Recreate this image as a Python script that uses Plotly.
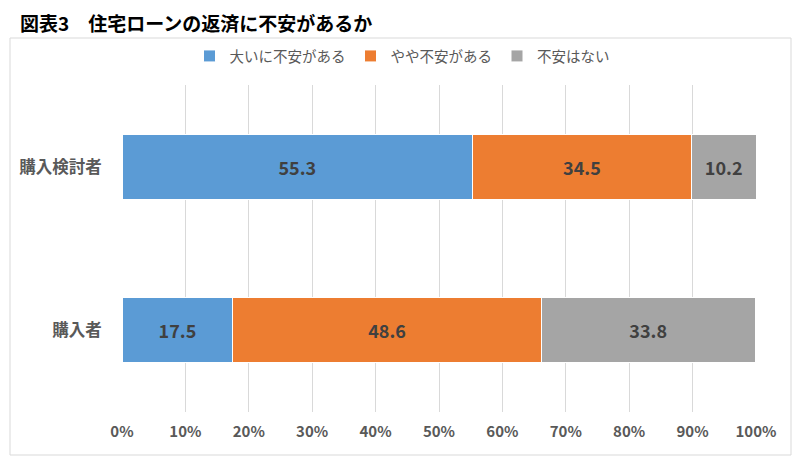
import plotly.graph_objects as go

categories = ["購入者", "購入検討者"]
series_names = ["大いに不安がある", "やや不安がある", "不安はない"]
very_anxious = [17.5, 55.3]
somewhat_anxious = [48.6, 34.5]
not_anxious = [33.8, 10.2]
colors = ["#5B9BD5", "#ED7D31", "#A5A5A5"]
tick_vals = [0, 10, 20, 30, 40, 50, 60, 70, 80, 90, 100]
tick_text = [f"{v}%" for v in tick_vals]

FONT = "Noto Sans CJK JP"
OFF = 8  # page body margin
fig = go.Figure()
for name, vals, col in zip(series_names, [very_anxious, somewhat_anxious, not_anxious], colors):
    fig.add_trace(go.Bar(
        y=categories, x=vals, name=name, orientation="h",
        marker=dict(color=col, line=dict(color="white", width=1)),
        text=[f"{v:.1f}" for v in vals], textposition="inside",
        insidetextanchor="middle", textangle=0, constraintext="none",
        textfont=dict(family=FONT, size=18, color="#404040", weight="bold"),
        width=0.4,
    ))

W, H = 800 - OFF, 463 - OFF
L, T = 122 - OFF, 85 - OFF
pw, ph = 634, 327
R, B = W - L - pw, H - T - ph

def px_x(p):
    return (p - OFF - L) / pw

def px_y(p):
    return (H - B - (p - OFF)) / ph

fig.add_shape(type="rect", xref="paper", yref="paper",
              x0=px_x(10), x1=px_x(791), y0=px_y(455), y1=px_y(38),
              line=dict(color="#D9D9D9", width=1), layer="below")

fig.update_layout(
    width=W, height=H, barmode="stack",
    margin=dict(l=L, r=R, t=T, b=B, autoexpand=False),
    paper_bgcolor="white", plot_bgcolor="white",
    font=dict(family=FONT, color="#595959"),
    title=dict(text="図表3　住宅ローンの返済に不安があるか", x=(20 - OFF)/W, xanchor="left",
               y=1 - (24 - OFF)/H, yanchor="middle", xref="container", yref="container",
               font=dict(family=FONT, size=19, color="#000000", weight="bold"),
               automargin=False),
    legend=dict(orientation="h", xref="container", yref="container",
                x=(402 - OFF)/W, xanchor="center", y=1 - (56 - OFF)/H, yanchor="middle",
                font=dict(family=FONT, size=14.5, color="#595959"),
                traceorder="normal"),
    xaxis=dict(range=[0, 100], tickvals=tick_vals, ticktext=tick_text,
               showgrid=True, gridcolor="#D9D9D9", gridwidth=1, zeroline=False,
               tickfont=dict(family=FONT, size=15, color="#595959", weight="bold"),
               ticks="outside", ticklen=6, tickcolor="rgba(0,0,0,0)",
               tickangle=0, showline=False, fixedrange=True, automargin=False),
    yaxis=dict(range=[-0.5, 1.5], showgrid=False, zeroline=False, ticks="outside",
               ticklen=16, tickcolor="rgba(0,0,0,0)", automargin=False,
               tickfont=dict(family=FONT, size=16.5, color="#595959", weight="bold"),
               showline=False),
)

fig.write_html("out.html")
